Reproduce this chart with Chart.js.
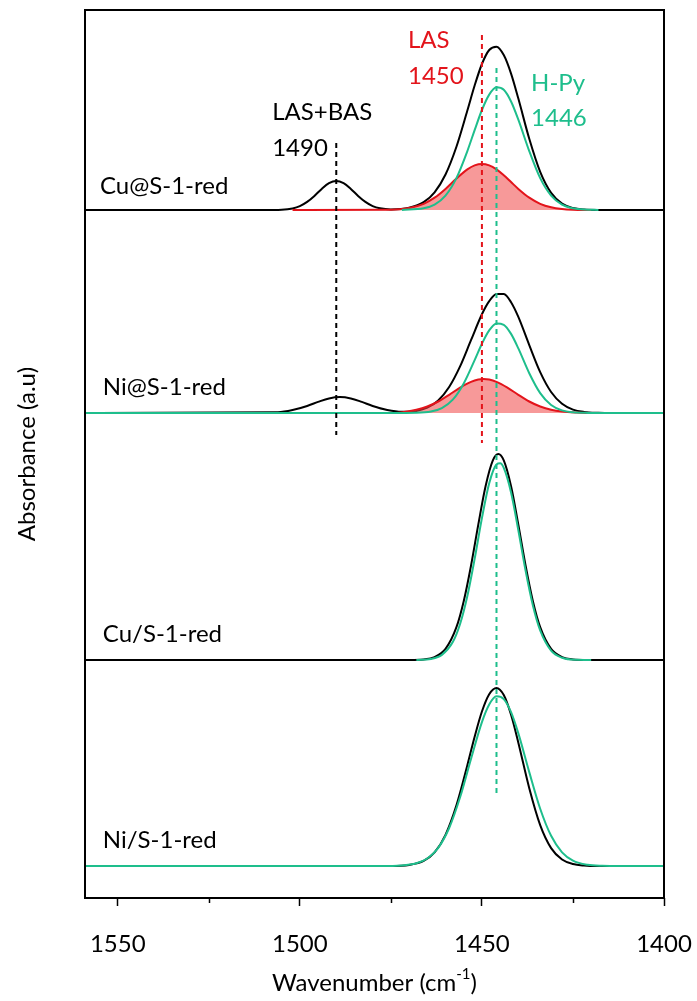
<!DOCTYPE html>
<html>
<head>
<meta charset="utf-8">
<script src="https://cdn.jsdelivr.net/npm/chart.js@4/dist/chart.umd.min.js"></script>
<style>
    html, body { margin: 0; padding: 0; background: #ffffff; }
    canvas { display: block; }
</style>
</head>
<body>
<canvas id="irChart" width="697" height="1001"></canvas>
<script>
// Sample names and the vertical offset of each stacked spectrum (a.u.)
const samples = ['Cu@S-1-red', 'Ni@S-1-red', 'Cu/S-1-red', 'Ni/S-1-red'];
const baselines = [6.88, 4.85, 2.38, 0.32];

// Wavenumber axis
const xMin = 1400;
const xMax = 1559;
const majorTicks = [1550, 1500, 1450, 1400];
const minorTicks = [1525, 1475, 1425];

// Cu@S-1-red : measured (black), H-Py fit (green), LAS fit (red)
const cuAtX = [1559, 1510, 1505, 1502, 1500, 1498, 1496, 1494, 1492, 1490, 1488, 1486, 1484, 1482, 1480, 1478, 1475, 1470, 1466, 1463, 1460, 1457, 1454, 1452, 1450, 1448, 1446, 1444, 1442, 1440, 1437, 1434, 1431, 1428, 1425, 1422, 1418, 1400];
const cuAtY = [0, 0, 0.003, 0.016, 0.039, 0.081, 0.141, 0.211, 0.268, 0.290, 0.268, 0.211, 0.141, 0.081, 0.039, 0.017, 0.006, 0.023, 0.079, 0.177, 0.355, 0.633, 0.995, 1.245, 1.460, 1.600, 1.633, 1.549, 1.364, 1.114, 0.712, 0.381, 0.171, 0.064, 0.020, 0.005, 0.001, 0];
const cuAtPyX = [1472, 1466, 1463, 1460, 1457, 1454, 1452, 1450, 1448, 1446, 1444, 1442, 1440, 1437, 1434, 1431, 1428, 1425, 1422, 1418];
const cuAtPyY = [0.001, 0.017, 0.054, 0.144, 0.319, 0.589, 0.799, 1.000, 1.154, 1.227, 1.202, 1.085, 0.903, 0.589, 0.319, 0.144, 0.054, 0.017, 0.004, 0.001];
const cuAtLasX = [1502, 1475, 1470, 1466, 1463, 1460, 1457, 1454, 1452, 1450, 1448, 1446, 1444, 1442, 1440, 1437, 1434, 1431, 1428, 1425, 1420];
const cuAtLasY = [0, 0.003, 0.020, 0.062, 0.123, 0.211, 0.314, 0.406, 0.446, 0.460, 0.446, 0.406, 0.347, 0.279, 0.211, 0.123, 0.062, 0.027, 0.010, 0.003, 0];

// Ni@S-1-red
const niAtX = [1559, 1506, 1502, 1498, 1495, 1492, 1489, 1486, 1483, 1480, 1476, 1472, 1468, 1465, 1462, 1459, 1456, 1453, 1450, 1448, 1446, 1444, 1442, 1440, 1437, 1434, 1431, 1428, 1425, 1422, 1418, 1414, 1400];
const niAtY = [0, 0.008, 0.029, 0.070, 0.111, 0.146, 0.160, 0.146, 0.111, 0.070, 0.030, 0.012, 0.021, 0.053, 0.126, 0.260, 0.466, 0.728, 0.987, 1.118, 1.191, 1.189, 1.108, 0.961, 0.679, 0.409, 0.210, 0.092, 0.034, 0.011, 0.002, 0, 0];
const niAtPyX = [1559, 1475, 1468, 1464, 1461, 1458, 1455, 1452, 1450, 1448, 1446, 1444, 1442, 1440, 1437, 1434, 1431, 1428, 1425, 1421, 1416, 1400];
const niAtPyY = [0, 0, 0.002, 0.014, 0.049, 0.133, 0.296, 0.529, 0.693, 0.826, 0.895, 0.882, 0.791, 0.646, 0.398, 0.199, 0.080, 0.026, 0.007, 0.001, 0, 0];
const niAtLasX = [1474, 1471, 1468, 1465, 1462, 1459, 1456, 1453, 1451, 1449.5, 1448, 1446, 1443, 1440, 1437, 1434, 1431, 1428, 1424, 1420];
const niAtLasY = [0, 0.012, 0.032, 0.065, 0.115, 0.182, 0.254, 0.312, 0.335, 0.340, 0.335, 0.312, 0.254, 0.182, 0.115, 0.065, 0.032, 0.014, 0.004, 0];

// Cu/S-1-red
const cuSupX = [1559, 1470, 1466, 1463, 1460, 1457, 1455, 1453, 1451, 1449, 1447, 1445.5, 1444, 1442, 1440, 1438, 1436, 1434, 1431, 1428, 1425, 1421, 1400];
const cuSupY = [0, 0.001, 0.006, 0.029, 0.111, 0.328, 0.588, 0.943, 1.354, 1.738, 1.996, 2.060, 1.996, 1.738, 1.354, 0.943, 0.588, 0.328, 0.111, 0.029, 0.006, 0.001, 0];
const cuSupPyX = [1468, 1464, 1461, 1458, 1456, 1454, 1452, 1450, 1448, 1446, 1445, 1444, 1442, 1440, 1438, 1436, 1434, 1431, 1428, 1424, 1420];
const cuSupPyY = [0.001, 0.011, 0.051, 0.179, 0.360, 0.640, 1.011, 1.419, 1.768, 1.956, 1.967, 1.921, 1.675, 1.298, 0.892, 0.545, 0.296, 0.094, 0.023, 0.002, 0];

// Ni/S-1-red
const niSupX = [1559, 1475, 1470, 1466, 1463, 1460, 1457, 1454, 1452, 1450, 1448, 1446, 1444, 1442, 1440, 1437, 1434, 1431, 1428, 1425, 1422, 1418, 1400];
const niSupY = [0, 0.001, 0.011, 0.051, 0.136, 0.312, 0.607, 1.008, 1.293, 1.545, 1.718, 1.780, 1.709, 1.512, 1.233, 0.778, 0.409, 0.179, 0.065, 0.020, 0.005, 0, 0];
const niSupPyX = [1559, 1478, 1472, 1468, 1465, 1462, 1459, 1456, 1453, 1450, 1448, 1446, 1444, 1442, 1440, 1437, 1434, 1431, 1428, 1425, 1421, 1417, 1412, 1400];
const niSupPyY = [0, 0, 0.005, 0.027, 0.075, 0.181, 0.380, 0.687, 1.071, 1.439, 1.615, 1.697, 1.669, 1.538, 1.326, 0.939, 0.573, 0.302, 0.137, 0.054, 0.012, 0.002, 0, 0];

// Marker lines: wavenumber, top and bottom (a.u.)
const markerX = [1490, 1450, 1446];
const markerTop = [7.55, 8.63, 8.30];
const markerBottom = [4.63, 4.55, 1.03];

// Text annotations: text, wavenumber (left edge), height (a.u.), colour key
const notes = [
    ['LAS+BAS', 1507.6, 7.86, 'black'],
    ['1490', 1507.6, 7.50, 'black'],
    ['LAS', 1470.3, 8.58, 'red'],
    ['1450', 1470.3, 8.22, 'red'],
    ['H-Py', 1436.5, 8.15, 'green'],
    ['1446', 1436.5, 7.80, 'green'],
    [samples[0], 1554.9, 7.12, 'black'],
    [samples[1], 1554.1, 5.11, 'black'],
    [samples[2], 1554.1, 2.64, 'black'],
    [samples[3], 1554.1, 0.58, 'black']
];

const colors = {
    black: '#000000',
    green: '#1EBE8C',
    red: '#E3141B',
    redFill: 'rgba(240, 70, 70, 0.55)'
};

const FONT = 'Lato, "Open Sans", sans-serif';
const FONT_SIZE = 24;

function toPoints(xs, ys, base) {
    return xs.map((x, i) => ({ x: x, y: ys[i] + base }));
}

function spectrum(label, xs, ys, base, color, order) {
    return {
        label: label,
        data: toPoints(xs, ys, base),
        borderColor: color,
        borderWidth: 2,
        pointRadius: 0,
        cubicInterpolationMode: 'monotone',
        fill: false,
        order: order
    };
}

function lasBand(label, xs, ys, base) {
    const ds = spectrum(label, xs, ys, base, colors.red, 2);
    ds.fill = { value: base };
    ds.backgroundColor = colors.redFill;
    return ds;
}

function marker(i, color) {
    return {
        label: 'marker ' + markerX[i],
        data: [{ x: markerX[i], y: markerTop[i] }, { x: markerX[i], y: markerBottom[i] }],
        borderColor: color,
        borderWidth: 2,
        borderDash: [5, 4],
        pointRadius: 0,
        fill: false,
        order: 0
    };
}

// Frame, minor ticks, annotations and x title
const decorations = {
    id: 'decorations',
    afterDatasetsDraw(chart) {
        const { ctx, chartArea, scales } = chart;
        const x = scales.x;
        const y = scales.y;
        ctx.save();

        ctx.strokeStyle = '#000';
        ctx.lineWidth = 2;
        ctx.strokeRect(chartArea.left, chartArea.top, chartArea.right - chartArea.left, chartArea.bottom - chartArea.top);

        ctx.lineWidth = 1.5;
        minorTicks.forEach(v => {
            const px = Math.round(x.getPixelForValue(v)) + 0.5;
            ctx.beginPath();
            ctx.moveTo(px, chartArea.bottom);
            ctx.lineTo(px, chartArea.bottom + 5);
            ctx.stroke();
        });

        ctx.font = FONT_SIZE + 'px ' + FONT;
        ctx.textBaseline = 'middle';
        ctx.textAlign = 'left';
        notes.forEach(([text, wn, h, key]) => {
            ctx.fillStyle = colors[key];
            ctx.fillText(text, x.getPixelForValue(wn), y.getPixelForValue(h));
        });

        // x axis title with superscript
        const main = 'Wavenumber (cm';
        const sup = '-1';
        const close = ')';
        ctx.fillStyle = '#000';
        const supFont = Math.round(FONT_SIZE * 0.62) + 'px ' + FONT;
        const wMain = ctx.measureText(main).width;
        const wClose = ctx.measureText(close).width;
        ctx.font = supFont;
        const wSup = ctx.measureText(sup).width;
        const total = wMain + wSup + wClose;
        let cx = (chartArea.left + chartArea.right) / 2 - total / 2;
        const cy = 983;
        ctx.font = FONT_SIZE + 'px ' + FONT;
        ctx.fillText(main, cx, cy);
        cx += wMain;
        ctx.font = supFont;
        ctx.fillText(sup, cx, cy - 9);
        cx += wSup;
        ctx.font = FONT_SIZE + 'px ' + FONT;
        ctx.fillText(close, cx, cy);

        ctx.restore();
    }
};

let irChart;

function initChart() {
    const canvas = document.getElementById('irChart');
    if (!canvas) return;

    Chart.defaults.font.family = FONT;
    Chart.defaults.color = '#000';

    irChart = new Chart(canvas, {
        type: 'line',
        data: {
            datasets: [
                marker(0, colors.black),
                marker(1, colors.red),
                marker(2, colors.green),
                spectrum(samples[0] + ' H-Py', cuAtPyX, cuAtPyY, baselines[0], colors.green, 1),
                lasBand(samples[0] + ' LAS', cuAtLasX, cuAtLasY, baselines[0]),
                spectrum(samples[0], cuAtX, cuAtY, baselines[0], colors.black, 3),
                spectrum(samples[1] + ' H-Py', niAtPyX, niAtPyY, baselines[1], colors.green, 1),
                lasBand(samples[1] + ' LAS', niAtLasX, niAtLasY, baselines[1]),
                spectrum(samples[1], niAtX, niAtY, baselines[1], colors.black, 3),
                spectrum(samples[2] + ' H-Py', cuSupPyX, cuSupPyY, baselines[2], colors.green, 1),
                spectrum(samples[2], cuSupX, cuSupY, baselines[2], colors.black, 3),
                spectrum(samples[3] + ' H-Py', niSupPyX, niSupPyY, baselines[3], colors.green, 1),
                spectrum(samples[3], niSupX, niSupY, baselines[3], colors.black, 3)
            ]
        },
        options: {
            responsive: false,
            animation: false,
            devicePixelRatio: 1,
            layout: { padding: { top: 10, right: 33, bottom: 0, left: 0 } },
            plugins: {
                legend: { display: false },
                tooltip: { enabled: false }
            },
            scales: {
                x: {
                    type: 'linear',
                    reverse: true,
                    min: xMin,
                    max: xMax,
                    afterBuildTicks: scale => {
                        scale.ticks = majorTicks.map(v => ({ value: v }));
                    },
                    afterFit: scale => {
                        scale.height = 103;
                        scale.paddingLeft = 0;
                        scale.paddingRight = 0;
                    },
                    ticks: {
                        padding: 24,
                        font: { size: FONT_SIZE },
                        color: '#000',
                        maxRotation: 0,
                        callback: v => String(v)
                    },
                    grid: {
                        display: true,
                        drawOnChartArea: false,
                        drawTicks: true,
                        tickLength: 8,
                        tickWidth: 1.5,
                        tickColor: '#000'
                    },
                    border: { display: false }
                },
                y: {
                    min: 0,
                    max: 8.88,
                    afterFit: scale => { scale.width = 85; },
                    ticks: { display: false },
                    grid: { display: false },
                    border: { display: false },
                    title: {
                        display: true,
                        text: 'Absorbance (a.u)',
                        font: { size: FONT_SIZE },
                        color: '#000',
                        padding: { top: 13, bottom: 0 }
                    }
                }
            }
        },
        plugins: [decorations]
    });
}

document.addEventListener('DOMContentLoaded', initChart);
</script>
</body>
</html>
